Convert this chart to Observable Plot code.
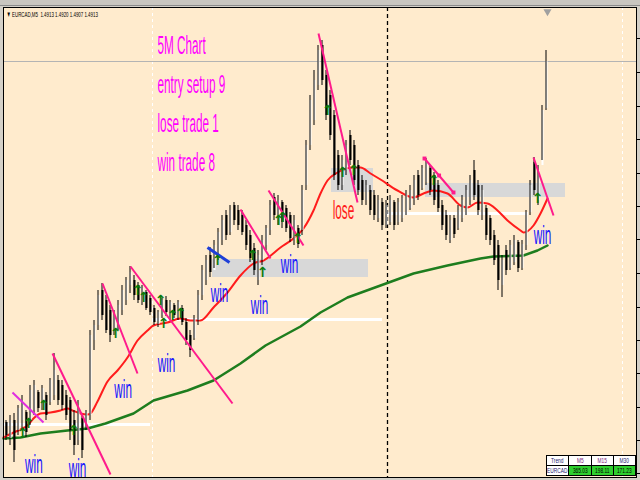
<!DOCTYPE html>
<html><head><meta charset="utf-8">
<script src="https://cdn.jsdelivr.net/npm/d3@7"></script>
<script src="https://cdn.jsdelivr.net/npm/@observablehq/plot@0.6"></script>
<style>
html,body{margin:0;padding:0;overflow:hidden;background:#d4d0c8;}
#wrap{position:relative;width:640px;height:480px;}
#topbar{position:absolute;left:0;top:0;width:640px;height:5px;background:#c9c6c0;border-bottom:1px solid #8a8a8a;}
#trend{position:absolute;left:546px;top:455px;width:90px;table-layout:fixed;border-collapse:collapse;font-family:"Liberation Sans",Arial,sans-serif;font-size:8px;line-height:9px;}
#trend td{border:1px solid #000;height:9px;padding:0;text-align:center;background:#fff;color:#1a1a6e;white-space:nowrap;overflow:hidden;}
#trend td span{display:block;width:200%;margin-left:-50%;transform:scaleX(0.6);transform-origin:50% 50%;text-align:center;}
#trend td.g{background:#2fcf2f;color:#000;}
</style>
</head><body>
<div id="wrap"><div id="topbar"></div><div id="chart"></div>
<table id="trend">
<tr><td><span>Trend</span></td><td><span style="color:#7a1a7a">M5</span></td><td><span style="color:#7a1a7a">M15</span></td><td><span>M30</span></td></tr>
<tr><td><span>EURCAD</span></td><td class="g"><span>365.03</span></td><td class="g"><span>198.11</span></td><td class="g"><span>171.23</span></td></tr>
</table></div>
<script>
// ---- candles (price in points above base), one per bar ----
const hi = [60,65,67,75,85,70,95,100,90,95, 88,102,127,105,100,90,83,70,80,65,
  70,150,160,190,197,185,175,170,180,195, 203,214,205,198,195,190,185,175,170,182,
  184,180,177,180,175,162,150,165,190,215, 225,233,240,252,265,270,275,278,275,270,
  260,250,237,230,245,255,280,287,285,280, 275,268,265,255,295,340,385,410,435,440,
  410,390,370,330,325,340,350,340,320,305, 300,295,290,285,282,280,285,280,282,285,
  290,295,305,310,315,322,315,308,300,280, 270,265,265,275,285,295,305,320,300,295,
  275,265,250,240,225,235,240,245,240,240, 270,300,323,315,375,430];
const lo = [40,35,18,45,50,43,55,65,68,70, 60,75,80,75,70,60,40,25,35,22,
  50,60,130,150,160,147,138,145,150,165, 175,187,180,177,175,170,165,155,153,162,
  164,160,162,160,155,135,123,140,155,180, 195,203,212,220,235,240,245,255,250,245,
  230,218,205,195,215,230,245,260,255,252, 248,238,235,232,245,290,330,355,390,395,
  360,340,300,290,290,305,315,295,285,275, 275,265,260,258,250,252,255,250,255,258,
  265,270,275,280,290,295,285,275,268,250, 240,237,242,250,258,265,275,280,265,260,
  240,235,215,190,183,205,210,215,208,210, 230,265,285,275,320,370];
const op = [58,42,60,50,60,68,60,70,88,72, 85,78,85,100,95,85,80,60,40,62,
  55,65,140,155,190,180,170,148,155,170, 180,195,200,195,178,188,182,172,156,165,
  180,162,175,163,172,158,145,142,160,185, 200,225,210,225,240,265,248,275,270,265,
  255,245,232,200,220,235,250,283,260,278, 272,265,240,252,250,295,335,360,395,435,
  405,385,365,325,295,310,345,335,315,300, 280,290,285,262,278,255,258,278,258,262,
  268,272,280,305,292,298,312,305,295,275, 265,240,262,252,262,268,280,310,295,265,
  272,262,245,235,195,230,212,218,238,212, 235,268,318,280,315,372];
const cl = [45,60,30,72,80,48,90,95,72,92, 65,100,110,80,75,65,50,35,75,30,
  68,145,155,185,165,150,145,165,175,190, 200,208,185,180,192,172,168,158,168,180,
  168,178,165,178,158,140,130,162,185,210, 220,208,235,248,260,245,270,260,255,248,
  235,222,210,225,240,252,275,265,280,258, 252,242,260,236,290,335,380,400,430,400,
  365,345,305,295,320,335,320,300,290,280, 295,270,265,280,255,275,280,255,278,282,
  286,290,300,285,312,318,290,280,272,255, 245,260,246,270,280,290,300,285,270,290,
  245,240,220,200,220,210,235,240,212,236, 265,295,290,310,370,419];
const bidPrice = 419;
const priceTicks = [7,40,73,107,140,173,207,241,274,307,341,374,408,442];

// ---- moving averages (bar index, price) ----
const redX = [-0.5,2,3.75,5.5,7,8.75,11.25,13.75,15.5,16.75,18.75,20.5,21.25,23,25.5,28,30.5,33,35.5,37,40.5,43.75,46.25,48.75,52,55.5,58.75,62,64.5,68.75,72,74.5,77,78.75,80.5,83,87,88.75,91.25,93.75,98,102,104.5,107,110.5,113.75,115.5,118,120.5,123,125.5,128.75,129.5,132,133.75,135.5];
const redV = [43,48,51,55,62,67,68,70,72,70,67,66,67,79,99,110,123,140,150,155,158,162,160,160,173,188,205,217,220,233,242,252,270,287,300,308,313,313,307,301,290,283,287,290,287,275,273,278,277,270,260,250,248,255,267,282];
const greenX = [-0.5,3.75,8.75,15.5,20.5,25,32,37,45.5,52,58.75,65,73.75,78.75,85.5,93.75,102,110.5,118.75,122,129.5,133,135.5];
const greenV = [42,43,47,50,52,57,67,80,90,100,117,135,154,168,183,195,207,215,222,224,225,230,235];

// ---- drawn objects ----
const trendX1 = [1.75,11.75,24.25,31.25,58.75,65.75,78.25,104.75,132];
const trendV1 = [88,127,197,214,271,290,447,322,323];
const trendX2 = [9.5,26.25,33,56.75,66.25,74.5,88,112,137];
const trendV2 = [58,6,107,77,222,235,278,288,265];
const trendCol = ["#e02ee0","#ff1a8c","#ff1a8c","#ff1a8c","#ff1a8c","#ff1a8c","#ff1a8c","#ff1a8c","#ff1a8c"];
const blueX = [50.5,56], blueV = [233,218];
const handleX = [104.75,108.4,112], handleV = [322,305,288];
const zoneX1 = [81.5,51.75,105], zoneX2 = [92,90.75,140], zoneV1 = [288,203,283], zoneV2 = [312,221,297];
const levelX1 = [-0.5,36.75,95], levelX2 = [36.25,94.25,130.75], levelV = [56,161,267];
const sepX = [36.75,95.5,154.25], sepKind = ["day","now","day"];

// ---- annotations ----
const noteText = ["5M Chart","entry setup 9","lose trade 1","win trade 8"];
const noteX = 38, noteV = [427,388,349,310];
const winX = [7.1,18,29.4,40.25,53.5,63.5,71,134.25];
const winV = [8,4,83,109,179,167,208,237];
const loseX = 84.5, loseV = 262;
const arrowX = [4.25,5.75,9.5,17,27.5,33,34.5,38.75,39.5,41.75,43.75,53,61.75,64.25,68.25,69.25,73,80.5,84.25,87,107,133];
const arrowV = [47,57,75,50,147,190,183,180,157,165,167,220,225,208,260,263,242,370,308,310,300,282];
const headerText = "▼ EURCAD,M5  1.4913 1.4920 1.4907 1.4913";

// ---- build tables ----
const bars = hi.map((h,i)=>({i, hi:h, lo:lo[i], op:op[i], cl:cl[i]}));
const red = redX.map((x,k)=>({x, v:redV[k]}));
const green = greenX.map((x,k)=>({x, v:greenV[k]}));
const trends = trendX1.map((x,k)=>({x1:x, y1:trendV1[k], x2:trendX2[k], y2:trendV2[k], c:trendCol[k]}));
const zones = zoneX1.map((x,k)=>({x1:x, x2:zoneX2[k], y1:zoneV1[k], y2:zoneV2[k]}));
const levels = levelX1.map((x,k)=>({x1:x, x2:levelX2[k], y:levelV[k]}));
const seps = sepX.map((x,k)=>({x, kind:sepKind[k]}));
const notes = noteText.map((t,k)=>({t, x:noteX, y:noteV[k]}));
const wins = winX.map((x,k)=>({x, y:winV[k]}));
const arrows = arrowX.map((x,k)=>({x, y:arrowV[k]}));
const handles = handleX.map((x,k)=>({x, y:handleV[k]}));

const font = "Liberation Sans, Arial, sans-serif";
const chart = Plot.plot({
  width: 640, height: 480,
  marginLeft: 3, marginRight: 4, marginTop: 7, marginBottom: 3,
  style: {background: "transparent", overflow: "hidden"},
  x: {domain: [-0.5, 157.75], axis: null},
  y: {domain: [3, 473]},
  marks: [
    Plot.frame({fill: "#ffebcd"}),
    Plot.rect(zones, {x1:"x1", x2:"x2", y1:"y1", y2:"y2", fill:"#d8d8d8"}),
    Plot.ruleY(levels, {x1:"x1", x2:"x2", y:"y", stroke:"#ffffff", strokeWidth:3}),
    Plot.ruleX(seps.filter(d=>d.kind==="day"), {x:"x", stroke:"#ffffff", strokeWidth:1, strokeDasharray:"3,3"}),
    Plot.ruleX(seps.filter(d=>d.kind==="now"), {x:"x", stroke:"#000000", strokeWidth:1.3, strokeDasharray:"4,3"}),
    Plot.ruleY([bidPrice], {stroke:"#b4b4b4", strokeWidth:1}),
    Plot.line(green, {x:"x", y:"v", stroke:"#1e7d1e", strokeWidth:2.5}),
    Plot.line(red, {x:"x", y:"v", stroke:"#ff1c1c", strokeWidth:2, curve:"monotone-x"}),
    Plot.ruleX(bars, {x:"i", y1:"op", y2:"cl", stroke:d=>d.cl>=d.op?"#ffffff":"#000000", strokeWidth:2, dx:1}),
    Plot.ruleX(bars, {x:"i", y1:"lo", y2:"hi", stroke:"#000000", strokeWidth:1, dx:0.5}),
    Plot.link(trends, {x1:"x1", y1:"y1", x2:"x2", y2:"y2", stroke:d=>d.c, strokeWidth:2}),
    Plot.link([0], {x1:()=>blueX[0], y1:()=>blueV[0], x2:()=>blueX[1], y2:()=>blueV[1], stroke:"#1f3fd8", strokeWidth:3}),
    Plot.dot(handles, {x:"x", y:"y", symbol:"square", r:2.2, fill:"#ff1a8c"}),
    Plot.text(arrows, {x:"x", y:"y", text:()=>"↑", fill:"#0b7a0b", fontSize:14, fontWeight:"bold", fontFamily:"DejaVu Sans"}),
    Plot.text(notes, {x:"x", y:"y", text:"t", fill:"#ff00ff", fontSize:25, fontFamily:font, textAnchor:"start", lineAnchor:"bottom"}),
    Plot.text(wins, {x:"x", y:"y", text:()=>"win", fill:"#1414ff", fontSize:25, fontFamily:font, lineAnchor:"bottom"}),
    Plot.text([0], {x:()=>loseX, y:()=>loseV, text:()=>"lose", fill:"#ff1a1a", fontSize:25, fontFamily:font, lineAnchor:"bottom"}),
    Plot.dot([0], {x:()=>135.5, y:()=>469, symbol:"triangle", rotate:180, r:3, fill:"#a0a0a0"}),
    Plot.text([headerText], {frameAnchor:"top-left", dx:3, dy:4, fontSize:8, fill:"#000", fontFamily:font}),
    Plot.axisY(priceTicks, {anchor:"right", tickSize:3, tickFormat:()=>"", label:null}),
    Plot.frame({stroke:"#000000"})
  ]
});
document.getElementById("chart").appendChild(chart);
// horizontal squeeze of the annotation texts, as in the (narrow) original screenshot
const squeeze = new Map([...noteText.map(t=>[t,0.47]), ["win",0.47], ["lose",0.47], [headerText,0.55]]);
chart.querySelectorAll("text").forEach(t=>{
  const f = squeeze.get(t.textContent);
  if (!f) return;
  const w = t.getComputedTextLength();
  if (w > 0) {
    t.setAttribute("textLength", (w*f).toFixed(1));
    t.setAttribute("lengthAdjust", "spacingAndGlyphs");
  }
});
</script>
</body></html>
